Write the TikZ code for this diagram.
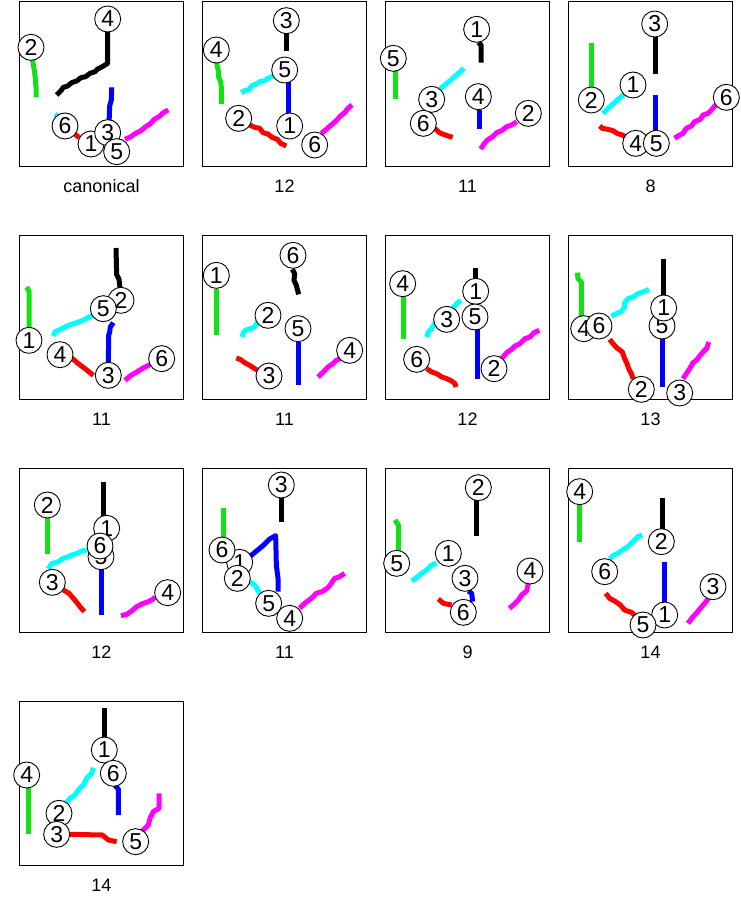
\documentclass[tikz,border=0pt]{standalone}
\usepackage{fontspec}
\setmainfont{Liberation Sans}
\definecolor{cgreen}{RGB}{20,225,20}
\definecolor{ccyan}{RGB}{0,255,255}
\definecolor{cmag}{RGB}{255,0,255}
\definecolor{cblue}{RGB}{0,0,255}
\definecolor{cred}{RGB}{255,0,0}
\tikzset{
  frame/.style={draw=black,line width=1pt},
  num/.style={circle,draw=black,fill=white,line width=0.9pt,inner sep=0pt,minimum size=26pt,font=\fontsize{23}{23}\selectfont},
  lab/.style={font=\fontsize{18}{18}\selectfont},
  stk/.style={line width=5pt,line join=round},
  gstk/.style={stk,draw=cgreen},
  cstk/.style={stk,draw=ccyan},
  mstk/.style={stk,draw=cmag},
  bstk/.style={stk,draw=cblue},
  rstk/.style={stk,draw=cred},
  kstk/.style={stk,draw=black},
  crop/.style={x=0.33333pt,y=-0.33333pt}
}
\begin{document}
\begin{tikzpicture}[x=1pt,y=-1pt]
\useasboundingbox[fill=white] (0,0) rectangle (740,899);
% frames and labels
\foreach \c/\r/\t [count=\i] in {0/0/canonical,1/0/12,2/0/11,3/0/8,0/1/11,1/1/11,2/1/12,3/1/13,0/2/12,1/2/11,2/2/9,3/2/14,0/3/14}{
  \pgfmathsetmacro{\lx}{19.5+183*\c}
  \pgfmathsetmacro{\ty}{2+233.2*\r}
  \draw[frame] (\lx,\ty) rectangle ++(164,164);
  \node[lab] (lab\i) at (\lx+82,\ty+184) {\t};
}
% panel 1
\begin{scope}[xshift=15pt,crop]
\draw[gstk] (52,178) -- (57,205) -- (61,235) -- (63,262) -- (63,292);
\draw[kstk] (278,95) -- (278,190) -- (262,200) -- (248,207) -- (240,215) -- (225,220) -- (212,230) -- (198,233) -- (185,243) -- (170,248) -- (158,258) -- (145,262) -- (138,272) -- (125,285);
\draw[bstk] (290,262) -- (289,300) -- (284,318) -- (282,372);
\draw[mstk] (330,418) -- (348,410) -- (362,400) -- (378,392) -- (392,380) -- (405,372) -- (418,358) -- (432,350) -- (445,338) -- (460,330);
\draw[cstk] (120,343) -- (138,352);
\draw[rstk] (175,398) -- (192,413);
\node[num] (p1n6) at (150,378) {6};
\node[num] (p1n1) at (228,432) {1};
\node[num] (p1n3) at (278,398) {3};
\node[num] (p1n5) at (305,455) {5};
\node[num] (p1n2) at (48,142) {2};
\node[num] (p1n4) at (278,57) {4};
\end{scope}
% panel 2
\begin{scope}[xshift=198pt,crop]
\draw[kstk] (265,95) -- (265,152);
\draw[gstk] (55,185) -- (58,200) -- (62,215) -- (62,232) -- (68,245) -- (70,262) -- (70,312);
\draw[cstk] (225,228) -- (210,235) -- (200,242) -- (185,245) -- (175,252) -- (160,258) -- (155,268) -- (140,272) -- (130,278);
\draw[bstk] (270,245) -- (270,340);
\draw[rstk] (155,375) -- (170,382) -- (185,385) -- (195,398) -- (210,402) -- (222,412) -- (238,418) -- (248,430) -- (265,438);
\draw[mstk] (370,400) -- (385,388) -- (400,375) -- (415,362) -- (425,350) -- (440,338) -- (450,325) -- (462,315);
\node[num] (p2n3) at (265,62) {3};
\node[num] (p2n4) at (55,150) {4};
\node[num] (p2n5) at (260,210) {5};
\node[num] (p2n1) at (275,378) {1};
\node[num] (p2n2) at (122,355) {2};
\node[num] (p2n6) at (350,435) {6};
\end{scope}
% panel 3
\begin{scope}[xshift=380pt,crop]
\draw[kstk] (295,128) -- (303,135) -- (303,188);
\draw[gstk] (45,210) -- (45,297);
\draw[cstk] (252,205) -- (235,220) -- (215,238) -- (200,250) -- (180,268);
\draw[bstk] (297,330) -- (297,388);
\draw[mstk] (410,365) -- (395,375) -- (380,380) -- (365,392) -- (350,398) -- (338,410) -- (322,420) -- (312,432) -- (302,447);
\draw[rstk] (165,385) -- (178,398) -- (195,405) -- (218,412);
\node[num] (p3n1) at (290,88) {1};
\node[num] (p3n5) at (40,175) {5};
\node[num] (p3n3) at (155,298) {3};
\node[num] (p3n4) at (295,290) {4};
\node[num] (p3n2) at (445,340) {2};
\node[num] (p3n6) at (130,370) {6};
\end{scope}
% panel 4
\begin{scope}[xshift=563pt,crop]
\draw[kstk] (278,110) -- (278,222);
\draw[gstk] (85,130) -- (85,272);
\draw[cstk] (185,282) -- (165,298) -- (150,312) -- (135,325) -- (120,340);
\draw[rstk] (110,378) -- (118,385) -- (135,388) -- (150,392) -- (162,400) -- (178,405) -- (195,415);
\draw[bstk] (278,285) -- (278,395);
\draw[mstk] (458,315) -- (445,330) -- (435,340) -- (420,345) -- (412,358) -- (395,365) -- (385,378) -- (370,385) -- (360,400) -- (345,408) -- (335,415);
\node[num] (p4n3) at (275,72) {3};
\node[num] (p4n2) at (85,300) {2};
\node[num] (p4n1) at (210,255) {1};
\node[num] (p4n4) at (218,430) {4};
\node[num] (p4n5) at (280,430) {5};
\node[num] (p4n6) at (490,292) {6};
\end{scope}
% panel 5
\begin{scope}[xshift=15pt,yshift=-232pt,crop]
\draw[kstk] (303,48) -- (305,128) -- (312,142) -- (315,168);
\draw[gstk] (35,165) -- (42,178) -- (42,290);
\draw[cstk] (240,248) -- (222,255) -- (205,265) -- (185,272) -- (165,278) -- (145,288) -- (130,295) -- (120,300) -- (115,312);
\draw[bstk] (295,272) -- (286,285) -- (284,300) -- (281,310) -- (280,395);
\draw[rstk] (170,378) -- (190,395) -- (210,410) -- (235,430);
\draw[mstk] (405,398) -- (385,408) -- (365,420) -- (348,430) -- (330,445);
\node[num] (p5n2) at (318,205) {2};
\node[num] (p5n5) at (265,230) {5};
\node[num] (p5n1) at (42,325) {1};
\node[num] (p5n4) at (135,368) {4};
\node[num] (p5n3) at (280,430) {3};
\node[num] (p5n6) at (440,380) {6};
\end{scope}
% panel 6
\begin{scope}[xshift=198pt,yshift=-232pt,crop]
\draw[kstk] (283,112) -- (290,125) -- (288,145) -- (295,160) -- (298,172) -- (302,187);
\draw[gstk] (55,170) -- (55,310);
\draw[cstk] (180,268) -- (172,282) -- (160,290) -- (148,292) -- (138,298) -- (132,315);
\draw[bstk] (302,330) -- (302,460);
\draw[mstk] (430,378) -- (415,385) -- (405,395) -- (390,405) -- (378,418) -- (360,435);
\draw[rstk] (115,378) -- (128,383) -- (140,392) -- (155,400) -- (170,410) -- (190,420);
\node[num] (p6n6) at (285,70) {6};
\node[num] (p6n1) at (55,130) {1};
\node[num] (p6n2) at (210,250) {2};
\node[num] (p6n5) at (300,290) {5};
\node[num] (p6n4) at (455,355) {4};
\node[num] (p6n3) at (213,432) {3};
\end{scope}
% panel 7
\begin{scope}[xshift=380pt,yshift=-232pt,crop]
\draw[kstk] (287,108) -- (287,145);
\draw[gstk] (70,190) -- (70,322);
\draw[cstk] (243,205) -- (230,215) -- (215,232) -- (195,248) -- (180,260) -- (165,272) -- (155,290) -- (145,300) -- (140,315);
\draw[bstk] (292,290) -- (292,440);
\draw[mstk] (478,295) -- (462,302) -- (450,315) -- (435,320) -- (420,335) -- (405,342) -- (395,352) -- (380,362) -- (365,380);
\draw[rstk] (140,410) -- (155,420) -- (170,425) -- (185,435) -- (200,440) -- (215,447) -- (225,455) -- (228,465);
\node[num] (p7n4) at (68,155) {4};
\node[num] (p7n3) at (200,262) {3};
\node[num] (p7n1) at (287,178) {1};
\node[num] (p7n5) at (285,255) {5};
\node[num] (p7n2) at (342,410) {2};
\node[num] (p7n6) at (110,382) {6};
\end{scope}
% panel 8
\begin{scope}[xshift=563pt,yshift=-232pt,crop]
\draw[kstk] (302,80) -- (302,200);
\draw[gstk] (43,122) -- (45,140) -- (55,150) -- (55,258);
\draw[cstk] (258,172) -- (240,180) -- (225,185) -- (210,195) -- (195,200) -- (185,212) -- (185,225) -- (175,238) -- (160,245) -- (145,252);
\draw[rstk] (140,322) -- (150,335) -- (162,348) -- (178,360) -- (185,380) -- (192,395) -- (198,412) -- (205,425) -- (210,440);
\draw[bstk] (297,318) -- (297,465);
\draw[mstk] (437,330) -- (432,348) -- (420,360) -- (410,372) -- (400,385) -- (390,392) -- (380,410) -- (370,425) -- (360,440);
\node[num] (p8n4) at (62,290) {4};
\node[num] (p8n6) at (108,282) {6};
\node[num] (p8n5) at (297,282) {5};
\node[num] (p8n1) at (302,228) {1};
\node[num] (p8n2) at (235,472) {2};
\node[num] (p8n3) at (350,483) {3};
\end{scope}
% panels 9 and 13
\begin{scope}[xshift=15pt,yshift=-465pt,crop]
\draw[kstk] (265,50) -- (265,160);
\draw[gstk] (97,160) -- (97,268);
\draw[cstk] (215,255) -- (200,258) -- (188,265) -- (175,268) -- (160,275) -- (145,280) -- (130,290) -- (110,296) -- (100,312);
\draw[rstk] (145,375) -- (162,385) -- (175,400) -- (185,412) -- (195,425) -- (208,440);
\draw[bstk] (258,310) -- (258,450);
\draw[mstk] (318,452) -- (335,448) -- (350,438) -- (365,425) -- (385,415) -- (400,410) -- (415,402) -- (420,395);
\node[num] (p9n3) at (112,352) {3};
\node[num] (p9n2) at (97,120) {2};
\node[num] (p9n5) at (258,275) {5};
\node[num] (p9n1) at (275,190) {1};
\node[num] (p9n6) at (255,243) {6};
\node[num] (p9n4) at (458,383) {4};
%
\draw[kstk] (268,730) -- (268,815);
\draw[gstk] (40,965) -- (40,1108);
\draw[cstk] (235,908) -- (230,925) -- (215,940) -- (205,960) -- (190,975) -- (180,990) -- (165,1000) -- (155,1012);
\draw[bstk] (300,962) -- (310,972) -- (310,1050);
\draw[rstk] (165,1108) -- (262,1110) -- (280,1125) -- (305,1130);
\draw[mstk] (432,985) -- (432,1030) -- (415,1040) -- (405,1060) -- (400,1080) -- (380,1100);
\node[num] (p13n1) at (268,855) {1};
\node[num] (p13n6) at (295,925) {6};
\node[num] (p13n4) at (35,930) {4};
\node[num] (p13n2) at (132,1045) {2};
\node[num] (p13n3) at (125,1108) {3};
\node[num] (p13n5) at (362,1130) {5};
\end{scope}
% panel 10
\begin{scope}[xshift=198pt,yshift=-465pt,crop]
\draw[kstk] (250,95) -- (250,170);
\draw[gstk] (75,130) -- (75,215);
\draw[bstk] (155,275) -- (195,242) -- (215,222) -- (233,212) -- (235,300) -- (240,340) -- (240,380);
\draw[cstk] (155,350) -- (172,362) -- (185,385);
\draw[mstk] (305,430) -- (320,415) -- (340,400) -- (355,385) -- (372,380) -- (390,368) -- (400,355) -- (410,340) -- (425,335) -- (440,325);
\node[num] (p10n3) at (250,60) {3};
\node[num] (p10n1) at (125,292) {1};
\node[num] (p10n6) at (72,255) {6};
\node[num] (p10n2) at (118,340) {2};
\node[num] (p10n5) at (212,415) {5};
\node[num] (p10n4) at (275,460) {4};
\end{scope}
% panel 11
\begin{scope}[xshift=380pt,yshift=-465pt,crop]
\draw[kstk] (290,105) -- (290,212);
\draw[gstk] (45,165) -- (55,180) -- (55,258);
\draw[cstk] (170,295) -- (155,300) -- (140,315) -- (125,325) -- (110,338) -- (95,348);
\draw[bstk] (265,378) -- (275,385) -- (278,410);
\draw[rstk] (175,402) -- (190,415) -- (215,420);
\draw[mstk] (445,355) -- (440,378) -- (425,390) -- (415,405) -- (400,420) -- (388,430);
\node[num] (p11n2) at (295,68) {2};
\node[num] (p11n5) at (50,295) {5};
\node[num] (p11n1) at (205,265) {1};
\node[num] (p11n3) at (255,340) {3};
\node[num] (p11n6) at (250,442) {6};
\node[num] (p11n4) at (450,318) {4};
\end{scope}
% panel 12
\begin{scope}[xshift=563pt,yshift=-465pt,crop]
\draw[gstk] (48,115) -- (48,232);
\draw[kstk] (297,98) -- (297,195);
\draw[cstk] (238,210) -- (225,215) -- (210,230) -- (195,245) -- (178,255) -- (165,265) -- (150,272) -- (140,282);
\draw[bstk] (305,290) -- (305,415);
\draw[rstk] (128,385) -- (140,400) -- (158,410) -- (172,420) -- (185,435) -- (205,442) -- (215,450);
\draw[mstk] (438,398) -- (425,415) -- (412,430) -- (400,445) -- (390,455) -- (375,475);
\node[num] (p12n4) at (50,80) {4};
\node[num] (p12n2) at (295,230) {2};
\node[num] (p12n6) at (125,320) {6};
\node[num] (p12n1) at (305,450) {1};
\node[num] (p12n5) at (240,480) {5};
\node[num] (p12n3) at (450,365) {3};
\end{scope}
\end{tikzpicture}
\end{document}
